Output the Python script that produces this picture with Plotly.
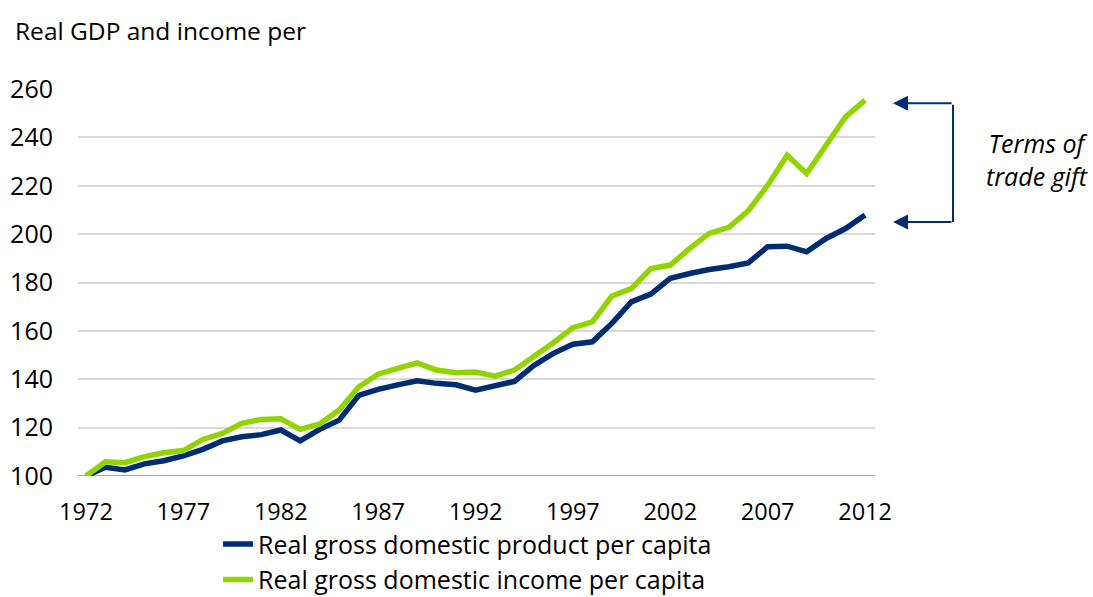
import plotly.graph_objects as go

years = list(range(1972, 2013))
gdp_per_capita = [100.0, 103.6, 102.5, 105.0, 106.3, 108.3, 111.0, 114.5, 116.2, 117.1,
                  119.0, 114.5, 119.3, 123.1, 133.3, 135.8, 137.7, 139.4, 138.3, 137.7,
                  135.5, 137.5, 139.1, 145.7, 150.7, 154.5, 155.5, 163.1, 172.0, 175.2,
                  181.7, 183.7, 185.4, 186.5, 188.1, 194.8, 195.0, 192.7, 198.2, 202.3, 207.9]
gdi_per_capita = [100.0, 105.9, 105.5, 108.0, 109.6, 110.5, 115.1, 117.6, 121.8, 123.4,
                  123.7, 119.3, 121.5, 127.3, 136.8, 142.1, 144.5, 146.8, 143.8, 142.7,
                  143.0, 141.3, 143.8, 149.3, 155.1, 161.3, 163.7, 174.4, 177.5, 185.8,
                  187.2, 194.1, 200.3, 202.8, 209.6, 220.2, 232.6, 225.0, 237.0, 248.5, 255.4]
tick_years = [1972, 1977, 1982, 1987, 1992, 1997, 2002, 2007, 2012]
y_ticks = [100, 120, 140, 160, 180, 200, 220, 240, 260]

NAVY = "#002D72"
GREEN = "#92D400"
FONT = "Open Sans"

fig = go.Figure()
fig.add_trace(go.Scatter(x=years, y=gdp_per_capita, mode="lines",
                         name="Real gross domestic product per capita",
                         line=dict(color=NAVY, width=5.5)))
fig.add_trace(go.Scatter(x=years, y=gdi_per_capita, mode="lines",
                         name="Real gross domestic income per capita",
                         line=dict(color=GREEN, width=5.5)))

fig.update_layout(
    width=1093, height=597,
    margin=dict(l=78, r=218, t=89, b=121, autoexpand=False),
    plot_bgcolor="white", paper_bgcolor="white",
    font=dict(family=FONT, size=24, color="black"),
    showlegend=True,
    legend=dict(orientation="v", xref="container", yref="container",
                x=0.1995, xanchor="left", y=0.127, yanchor="top",
                font=dict(size=25), tracegroupgap=0,
                bgcolor="rgba(0,0,0,0)"),
    xaxis=dict(range=[1971.59, 2012.51], tickvals=tick_years, showgrid=False,
               zeroline=False, showline=False, ticks="", tickfont=dict(size=23.5),
               ticklabelstandoff=19),
    yaxis=dict(range=[100, 260], tickvals=y_ticks, showgrid=True, gridcolor="#D9D9D9",
               gridwidth=2, zeroline=False, showline=False, ticks="",
               tickfont=dict(size=25), ticklabelstandoff=24),
)

# darker baseline
fig.add_shape(type="line", xref="paper", yref="y", x0=0, x1=1, y0=100, y1=100,
              line=dict(color="#A6A6A6", width=2), layer="below")

# Title
fig.add_annotation(text="Real GDP and income per", xref="paper", yref="paper",
                   x=-0.081, y=1.152, xanchor="left", yanchor="middle", showarrow=False,
                   font=dict(size=24.5, family=FONT))

# Terms of trade bracket
y_top = gdi_per_capita[-1] - 1.3
y_bot = gdp_per_capita[-1] - 2.9
x_tip = 1.0226
for yv in (y_top, y_bot):
    fig.add_annotation(x=x_tip, y=yv, xref="paper", yref="y", ax=60, ay=0,
                       showarrow=True, arrowhead=2, arrowsize=1.5, arrowwidth=2,
                       arrowcolor=NAVY, text="", standoff=0)
fig.add_annotation(x=x_tip, y=y_bot, xref="paper", yref="y", ax=0, ay=y_top,
                   ayref="y", showarrow=True, arrowhead=0, arrowwidth=2,
                   arrowcolor=NAVY, text="", standoff=0, xshift=60)
fig.add_annotation(text="<i>Terms of<br>trade gift</i>", xref="paper", yref="paper",
                   x=1.203, y=0.819, xanchor="center", yanchor="middle", showarrow=False,
                   align="center", font=dict(size=25, family=FONT))

fig.write_html("out.html", config={"displayModeBar": False},
               post_script="document.body.style.margin='0';")
